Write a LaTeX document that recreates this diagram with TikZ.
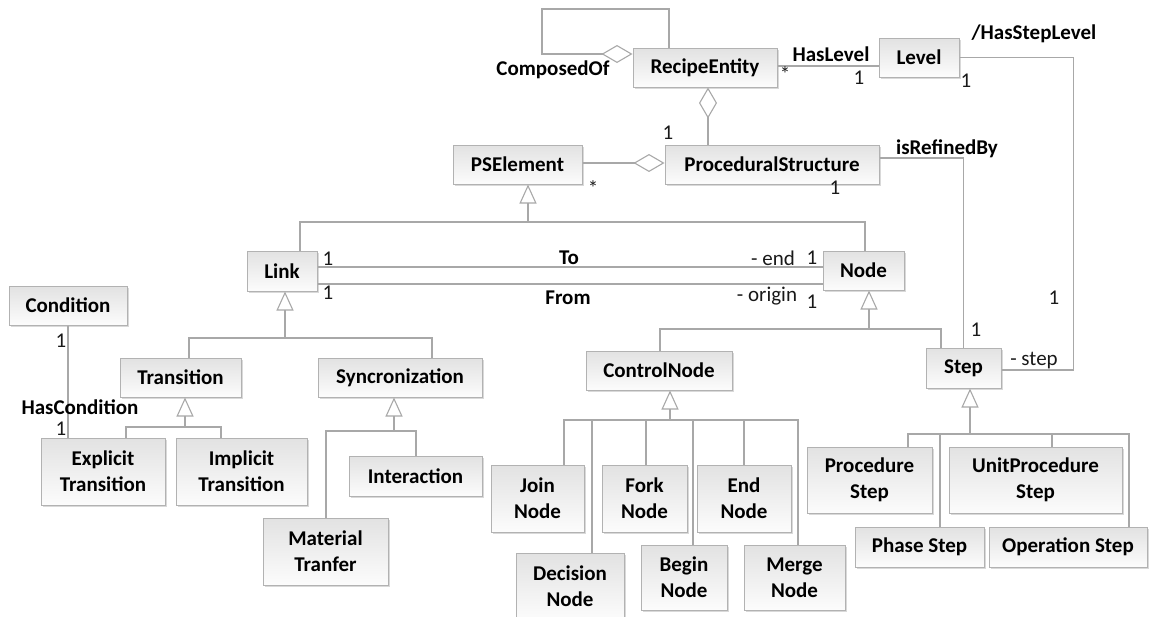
\documentclass[tikz,border=0pt]{standalone}
\usepackage{fontspec}
\setmainfont{Carlito}
\usetikzlibrary{arrows.meta,shadows}
\definecolor{wirec}{HTML}{A8A8A8}
\definecolor{boxline}{HTML}{B2B2B2}
\definecolor{boxtop}{HTML}{E2E2E2}
\definecolor{boxbot}{HTML}{FCFCFC}
\begin{document}
\begin{tikzpicture}[x=1pt,y=-1pt,
  cls/.style={draw=boxline, line width=1pt, top color=boxtop, bottom color=boxbot,
    font=\fontsize{21}{26}\selectfont\bfseries, align=center, inner sep=0pt, text=black,
    drop shadow={shadow xshift=1.5pt, shadow yshift=-1.5pt, fill=black, opacity=0.15}},
  sz/.style 2 args={minimum width=#1pt, minimum height=#2pt},
  wire/.style={draw=wirec, line width=1.1pt},
  gen/.style={wire, -{Triangle[open, length=19pt, width=17pt]}},
  aggr/.style={wire, -{Diamond[open, length=31pt, width=18pt]}},
  lab/.style={font=\fontsize{21}{22}\selectfont\bfseries, inner sep=0pt, text=black},
  mult/.style={font=\fontsize{21}{22}\selectfont, inner sep=0pt, text=black!90}]
\useasboundingbox (0,0) rectangle (1150,616);

% classes
\node[cls, sz={144}{39}] (re)    at (705,67.5)   {RecipeEntity};
\node[cls, sz={80}{39}]  (lvl)   at (919,57.5)   {Level};
\node[cls, sz={129}{39}] (pse)   at (517.5,164.5) {PSElement};
\node[cls, sz={214}{39}] (ps)    at (772,164.5)  {ProceduralStructure};
\node[cls, sz={70}{40}]  (link)  at (282,271)    {Link};
\node[cls, sz={81}{39}]  (node)  at (863.5,270.5) {Node};
\node[cls, sz={118}{39}] (cond)  at (68,305.5)   {Condition};
\node[cls, sz={121}{39}] (trans) at (180.5,377.5) {Transition};
\node[cls, sz={164}{39}] (sync)  at (400,377.5)  {Syncronization};
\node[cls, sz={146}{39}] (cn)    at (659,370.5)  {ControlNode};
\node[cls, sz={75}{40}]  (step)  at (963.5,368)  {Step};
\node[cls, sz={124}{67}] (expl)  at (103,471.5)  {Explicit\\Transition};
\node[cls, sz={131}{67}] (impl)  at (241.5,471.5) {Implicit\\Transition};
\node[cls, sz={133}{40}] (inter) at (415.5,476)  {Interaction};
\node[cls, sz={125}{67}] (mat)   at (325.5,551.5) {Material\\Tranfer};
\node[cls, sz={93}{67}]  (join)  at (537.5,498.5) {Join\\Node};
\node[cls, sz={85}{67}]  (fork)  at (644.5,498.5) {Fork\\Node};
\node[cls, sz={94}{67}]  (endn)  at (744,498.5)  {End\\Node};
\node[cls, sz={108}{67}] (dec)   at (570,586.5)  {Decision\\Node};
\node[cls, sz={86}{65}]  (begin) at (684,577.5)  {Begin\\Node};
\node[cls, sz={101}{65}] (merge) at (794.5,577.5) {Merge\\Node};
\node[cls, sz={125}{66}] (proc)  at (869.5,480)  {Procedure\\Step};
\node[cls, sz={173}{66}] (unit)  at (1035.5,480) {UnitProcedure\\Step};
\node[cls, sz={129}{40}] (phase) at (919.5,547)  {Phase Step};
\node[cls, sz={158}{40}] (oper)  at (1068,547)   {Operation Step};

% generalisation trees
\coordinate (b1) at (528,222);
\draw[wire] ([xshift=18pt]link.north) |- (b1) -| ([xshift=1.5pt]node.north);
\draw[gen] (b1) -- ([xshift=10.5pt]pse.south);

\coordinate (b2) at (285,338);
\draw[wire] ([xshift=8.5pt]trans.north) |- (b2) -| ([xshift=32pt]sync.north);
\draw[gen] (b2) -- ([xshift=3pt]link.south);

\coordinate (b3) at (185,427);
\draw[wire] ([xshift=23pt]expl.north) |- (b3) -| ([xshift=-20.5pt]impl.north);
\draw[gen] (b3) -- ([xshift=4.5pt]trans.south);

\coordinate (b4) at (394,431);
\draw[wire] ([xshift=0.5pt]mat.north) |- (b4) -| ([xshift=0.5pt]inter.north);
\draw[gen] (b4) -- ([xshift=-6pt]sync.south);

\coordinate (b5) at (869,329);
\draw[wire] ([xshift=1pt]cn.north) |- (b5) -| ([xshift=-22.5pt]step.north);
\draw[gen] (b5) -- ([xshift=5.5pt]node.south);

\coordinate (b6) at (670,420);
\draw[wire] ([xshift=26.5pt]join.north) |- (b6) -| ([xshift=3.5pt]merge.north);
\draw[wire] (b6) -| ([xshift=22pt]dec.north);
\draw[wire] (b6) -| ([xshift=1.5pt]fork.north);
\draw[wire] (b6) -| ([xshift=9pt]begin.north);
\draw[wire] (b6) -| (endn.north);
\draw[gen] (b6) -- ([xshift=11pt]cn.south);

\coordinate (b7) at (970,434);
\draw[wire] ([xshift=38.5pt]proc.north) |- (b7) -| ([xshift=61pt]oper.north);
\draw[wire] (b7) -| ([xshift=20.5pt]phase.north);
\draw[wire] (b7) -| ([xshift=16.5pt]unit.north);
\draw[gen] (b7) -- ([xshift=6.5pt]step.south);

% associations
\coordinate (loopTL) at (542,9);
\draw[aggr] ([xshift=-36pt]re.north) |- (loopTL) |- ([yshift=13.5pt]re.west);
\draw[aggr] ([xshift=-64pt]ps.north) -- ([xshift=3pt]re.south);
\draw[aggr] ([yshift=1.5pt]pse.east) -- ([yshift=1.5pt]ps.west);
\draw[wire] ([yshift=1.5pt]re.east) -- ([yshift=-8.5pt]lvl.west);
\draw[wire] (lvl.east) -| ([xshift=72pt,yshift=-2pt]step.east) -- ([yshift=-2pt]step.east);
\draw[wire] ([yshift=6.5pt]ps.east) -| (step.north);
\draw[wire] ([yshift=4pt]link.east) -- ([yshift=3.5pt]node.west);
\draw[wire] ([yshift=-13pt]link.east) -- ([yshift=-13.5pt]node.west);
\draw[wire] (cond.south) -- ([xshift=-35pt]expl.north);

% association names and multiplicities
\node[lab]  (tComp)  at (553,70)   {ComposedOf};
\node[lab]  (tHL)    at (831,54)   {HasLevel};
\node[mult] (mRE)    at (785,74)   {*};
\node[mult] (mLv1)   at (859,78)   {1};
\node[mult] (mLv2)   at (966,81)   {1};
\node[lab]  (tHSL)   at (1034,34)  {/HasStepLevel};
\node[mult] (mRE2)   at (668,133)  {1};
\node[mult] (mPSE)   at (593,188)  {*};
\node[mult] (mPS)    at (835,188)  {1};
\node[lab]  (tRef)   at (947,149)  {isRefinedBy};
\node[mult] (mSt1)   at (976,330)  {1};
\node[mult] (mSt2)   at (1054,298) {1};
\node[mult] (tStep)  at (1034,361) {- step};
\node[mult] (mLk1)   at (328,259)  {1};
\node[mult] (mLk2)   at (328,293)  {1};
\node[lab]  (tTo)    at (569,258)  {To};
\node[lab]  (tFrom)  at (568,298)  {From};
\node[mult] (tEnd)   at (773,258)  {- end};
\node[mult] (mNd1)   at (812,258)  {1};
\node[mult] (tOrig)  at (767,296)  {- origin};
\node[mult] (mNd2)   at (812,302)  {1};
\node[mult] (mCd1)   at (61,341)   {1};
\node[lab]  (tHC)    at (80,407)   {HasCondition};
\node[mult] (mCd2)   at (61,429)   {1};
\end{tikzpicture}
\end{document}
